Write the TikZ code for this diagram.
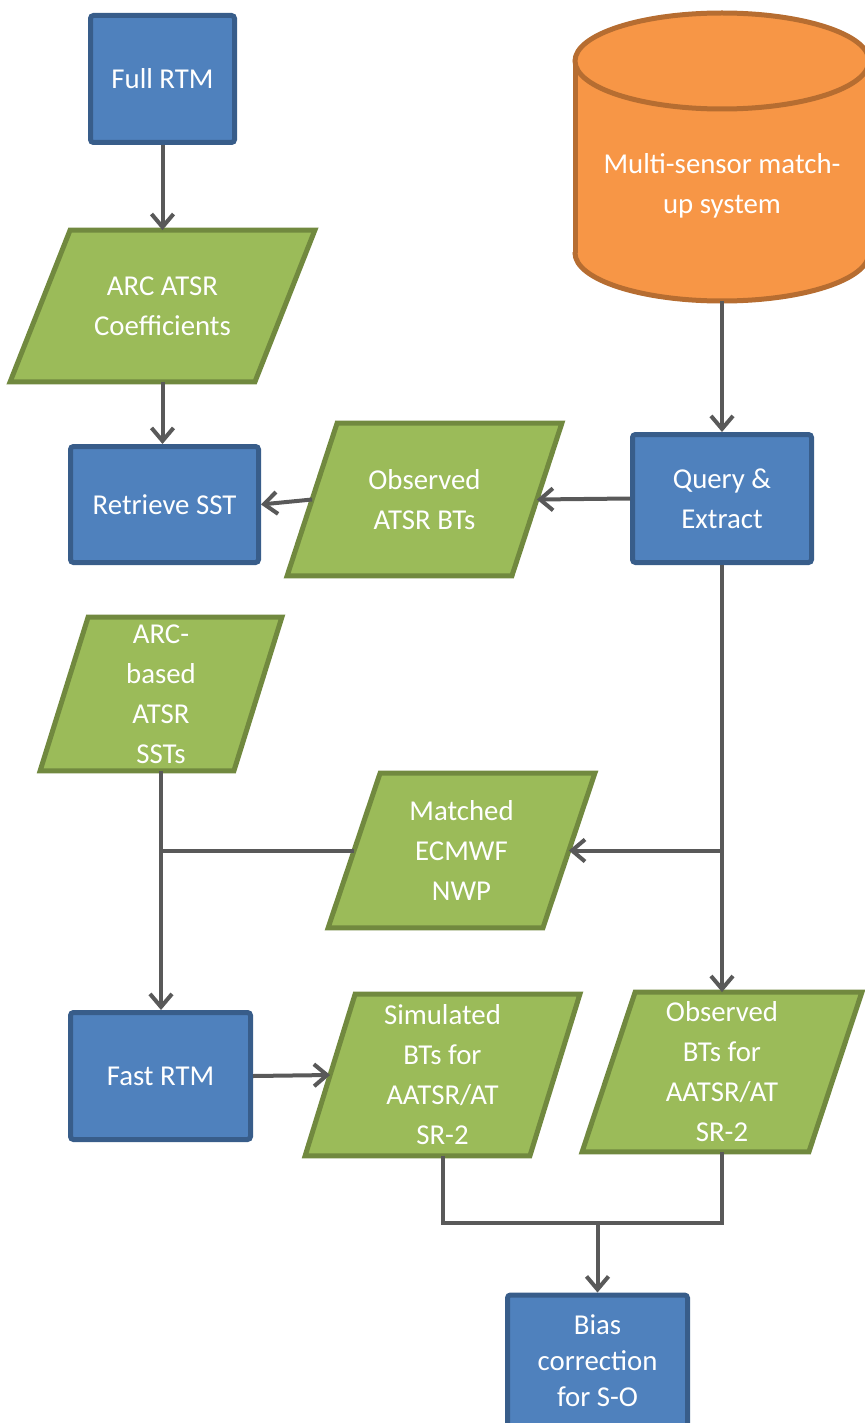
\documentclass[tikz,border=0pt]{standalone}
\usepackage{fontspec}
\setmainfont{Carlito}
\usetikzlibrary{arrows.meta,calc,backgrounds}
\definecolor{boxblue}{HTML}{4F81BD}
\definecolor{boxblueline}{HTML}{385D8A}
\definecolor{datagreen}{HTML}{9BBB59}
\definecolor{datagreenline}{HTML}{71893F}
\definecolor{dborange}{HTML}{F79646}
\definecolor{dborangeline}{HTML}{B66D31}
\definecolor{flowgray}{HTML}{595959}
\def\pxu{0.5pt}
\begin{document}
\begin{tikzpicture}[x=0.5pt,y=-0.5pt,
  every node/.style={font=\fontsize{14.4}{20}\selectfont, text=white, align=center, inner sep=0pt},
  procbox/.style={rectangle, rounded corners=1.5pt, fill=boxblue, draw=boxblueline, line width=2.5pt},
  databox/.style={rectangle},
  flow/.style={draw=flowgray, line width=2pt, -{Straight Barb[length=6.5pt,width=11pt]}},
  link/.style={draw=flowgray, line width=2pt},
  paraedge/.style={fill=datagreen, draw=datagreenline, line width=2.5pt, line join=miter},
  dbedge/.style={draw=dborangeline, line width=2.5pt}
]
\useasboundingbox (0,0) rectangle (864,1423);

% process boxes
\node[procbox, minimum width=144*\pxu, minimum height=127*\pxu] (full)  at (162.5,79)   {Full RTM};
\node[procbox, minimum width=188*\pxu, minimum height=116*\pxu] (retr)  at (164.5,504.5) {Retrieve SST};
\node[procbox, minimum width=179*\pxu, minimum height=128*\pxu] (query) at (722,498.5)  {Query \&\\Extract};
\node[procbox, minimum width=180*\pxu, minimum height=127*\pxu] (fast)  at (160.5,1076) {Fast RTM};
\node[procbox, minimum width=180*\pxu, minimum height=132*\pxu,
      font=\fontsize{14.4}{18}\selectfont] (bias) at (597.5,1361) {Bias\\correction\\for S-O};

% data items (parallelograms are drawn on the background layer)
\node[databox, minimum width=244*\pxu, minimum height=151*\pxu] (coef)    at (162.5,306)   {ARC ATSR\\Coefficients};
\node[databox, minimum width=224*\pxu, minimum height=152*\pxu] (obsatsr) at (424.5,499.5) {Observed\\ATSR BTs};
\node[databox, minimum width=193*\pxu, minimum height=153*\pxu] (arcsst)  at (161,694)     {ARC-\\based\\ATSR\\SSTs};
\node[databox, minimum width=214*\pxu, minimum height=154*\pxu] (matched) at (461.5,850.5) {Matched\\ECMWF\\NWP};
\node[databox, minimum width=224*\pxu, minimum height=161*\pxu] (sim)     at (442.5,1075)  {Simulated\\BTs for\\AATSR/AT\\SR-2};
\node[databox, minimum width=226*\pxu, minimum height=159*\pxu] (obsbt)   at (722,1072)    {Observed\\BTs for\\AATSR/AT\\SR-2};

% database
\node[rectangle, minimum width=294*\pxu, minimum height=288*\pxu] (mss) at (722,157) {};
\node (msstext) at (722,185.5) {Multi-sensor match-\\up system};

\begin{pgfonlayer}{background}
  \foreach \n/\s in {coef/60, obsatsr/50, arcsst/48, matched/52, sim/50, obsbt/53}
    \path[paraedge] ($(\n.north west)+(\s/2,0)$) -- ($(\n.north east)+(\s/2,0)$)
      -- ($(\n.south east)-(\s/2,0)$) -- ($(\n.south west)-(\s/2,0)$) -- cycle;
  % cylinder body
  \path[fill=dborange] (575,61) rectangle (869,253);
  \path[fill=dborange] (722,253) ellipse [x radius=73.5pt, y radius=24pt];
  \draw[dbedge] (575,61) -- (575,253);
  \draw[dbedge] (869,61) -- (869,253);
  \begin{scope}
    \clip (560,253) rectangle (880,320);
    \draw[dbedge] (722,253) ellipse [x radius=73.5pt, y radius=24pt];
  \end{scope}
  \draw[dbedge, fill=dborange] (722,61) ellipse [x radius=73.5pt, y radius=24pt];
\end{pgfonlayer}

% connectors
\draw[flow] (full.south) -- (coef.north);
\draw[flow] (coef.south) -- (coef.south |- retr.north);
\draw[flow] (obsatsr.west) -- (retr.east);
\draw[flow] (query.west) -- (obsatsr.east);
\draw[flow] (mss.south) -- (query.north);
\draw[flow] (query.south) -- (obsbt.north);
\coordinate (tap) at (query.south |- matched.east);
\draw[flow] (tap) -- (matched.east);
\draw[link] (matched.west) -- (arcsst.south |- matched.west);
\draw[flow] (arcsst.south) -- (arcsst.south |- fast.north);
\draw[flow] (fast.east) -- (sim.west);
\coordinate (merge) at (bias.north |- 0,1223);
\draw[link] (sim.south) |- (merge) -| (obsbt.south);
\draw[flow] (merge) -- (bias.north);
\end{tikzpicture}
\end{document}
